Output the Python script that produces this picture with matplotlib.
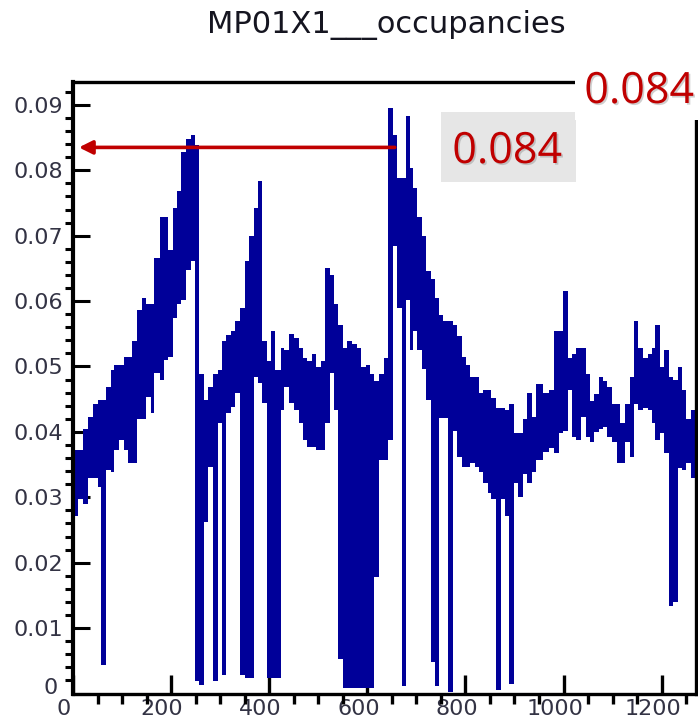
import numpy as np
import matplotlib
matplotlib.use("Agg")
import matplotlib.pyplot as plt
import matplotlib.patheffects as pe
from matplotlib.patches import Rectangle
from matplotlib.ticker import MultipleLocator, FuncFormatter
from matplotlib.transforms import ScaledTranslation

W, H, DPI = 698, 718, 100
BLUE = "#000099"
RED = "#C00000"
LABEL_C = "#333344"

title = "MP01X1___occupancies"

# channel ranges, with the top and bottom of the
# (alternating-channel) band inside each range
edges = [0, 10, 20, 31, 40, 50, 58, 67, 77, 84,
         94, 103, 113, 121, 130, 140, 149, 158, 166, 177,
         186, 194, 203, 212, 221, 231, 240, 249, 257, 267,
         276, 286, 295, 303, 312, 322, 331, 340, 350, 359,
         368, 377, 385, 395, 403, 412, 423, 431, 441, 450,
         461, 469, 478, 488, 495, 505, 514, 523, 533, 541,
         550, 559, 569, 578, 587, 597, 606, 614, 623, 633,
         642, 652, 661, 670, 679, 687, 693, 702, 711, 720,
         729, 738, 747, 755, 765, 774, 783, 792, 801, 809,
         819, 828, 836, 847, 853, 862, 872, 881, 889, 899,
         908, 917, 925, 935, 944, 958, 971, 981, 990, 999,
         1009, 1018, 1026, 1036, 1045, 1054, 1063, 1072, 1081, 1089,
         1098, 1108, 1116, 1126, 1135, 1143, 1152, 1162, 1172, 1180,
         1187, 1197, 1205, 1215, 1224, 1233, 1242, 1250, 1259, 1270]

upper = [.0373, .0373, .0405, .0423, .0443, .0449, .0449, .0469, .0494, .0503,
         .0503, .0514, .0514, .0539, .0586, .0605, .0595, .0595, .0666, .0728,
         .0728, .0678, .0742, .0769, .0828, .0848, .0854, .0838, .0489, .0449,
         .0469, .0489, .0494, .0539, .0548, .0555, .0570, .0590, .0662, .0700,
         .0742, .0783, .0539, .0509, .0555, .0494, .0529, .0525, .0549, .0543,
         .0529, .0513, .0508, .0519, .0499, .0508, .0650, .0640, .0595, .0564,
         .0529, .0539, .0534, .0529, .0499, .0503, .0489, .0478, .0489, .0513,
         .0895, .0854, .0788, .0788, .0883, .0803, .0773, .0728, .0700, .0646,
         .0634, .0605, .0578, .0570, .0570, .0564, .0547, .0514, .0503, .0484,
         .0484, .0460, .0464, .0464, .0452, .0437, .0437, .0433, .0443, .0398,
         .0398, .0419, .0460, .0423, .0473, .0460, .0464, .0555, .0555, .0615,
         .0513, .0519, .0529, .0529, .0489, .0448, .0458, .0484, .0478, .0469,
         .0443, .0443, .0413, .0443, .0484, .0570, .0529, .0513, .0519, .0529,
         .0564, .0499, .0525, .0484, .0479, .0499, .0464, .0419, .0433]

lower = [.0271, .0297, .0290, .0330, .0330, .0316, .0044, .0341, .0338, .0372,
         .0388, .0373, .0353, .0353, .0419, .0419, .0454, .0429, .0490, .0479,
         .0510, .0514, .0574, .0595, .0602, .0647, .0662, .0019, .0013, .0262,
         .0347, .0019, .0414, .0029, .0429, .0438, .0460, .0029, .0023, .0023,
         .0484, .0475, .0444, .0023, .0023, .0023, .0433, .0469, .0444, .0433,
         .0414, .0388, .0377, .0377, .0373, .0373, .0414, .0490, .0433, .0052,
         .0009, .0009, .0009, .0009, .0009, .0009, .0009, .0178, .0357, .0357,
         .0388, .0685, .0590, .0012, .0601, .0525, .0554, .0525, .0496, .0449,
         .0048, .0012, .0421, .0421, .0003, .0402, .0362, .0347, .0347, .0353,
         .0347, .0338, .0322, .0306, .0297, .0006, .0297, .0271, .0015, .0322,
         .0300, .0335, .0322, .0338, .0357, .0370, .0376, .0368, .0398, .0402,
         .0464, .0392, .0388, .0423, .0392, .0384, .0400, .0404, .0408, .0392,
         .0384, .0353, .0353, .0384, .0362, .0443, .0433, .0437, .0433, .0414,
         .0388, .0398, .0368, .0134, .0140, .0345, .0341, .0353, .0330]

marked_value = "0.084"
arrow_level = 0.0835
arrow_span = (656, 12)   # tail, head (channel)

plt.rcParams["font.family"] = ["DejaVu Sans"]


def px(x, y):
    """figure pixel (from top-left) -> figure fraction"""
    return x / W, 1 - y / H


fig = plt.figure(figsize=(W / DPI, H / DPI), dpi=DPI)
x0, y0 = px(73, 693.5)
x1, y1 = px(696, 82)
ax = fig.add_axes([x0, y0, x1 - x0, y1 - y0])

x = np.array(edges)
ax.fill_between(x, np.append(lower, lower[-1]), np.append(upper, upper[-1]),
                step="post", color=BLUE, lw=0, zorder=2)

ax.set_xlim(0, 1270)
ax.set_ylim(0, 0.0935)
ax.xaxis.set_major_locator(MultipleLocator(200))
ax.xaxis.set_minor_locator(MultipleLocator(50))
ax.yaxis.set_major_locator(MultipleLocator(0.01))
ax.yaxis.set_minor_locator(MultipleLocator(0.002))
# the y "0" is written separately below, a bit higher than its tick
ax.yaxis.set_major_formatter(
    FuncFormatter(lambda v, p: "" if abs(v) < 1e-9 else f"{v:.2f}"))
ax.xaxis.set_major_formatter(FuncFormatter(lambda v, p: f"{v:.0f}"))

ax.tick_params(direction="in", top=False, right=False, labelsize=16,
               labelcolor=LABEL_C, color="black")
ax.tick_params(axis="y", which="major", length=12.5, width=2.2, pad=7)
ax.tick_params(axis="y", which="minor", length=6, width=2.2)
ax.tick_params(axis="x", which="major", length=13.5, width=2.4, pad=4)
ax.tick_params(axis="x", which="minor", length=7, width=2.4)
for s in ax.spines.values():
    s.set_linewidth(2.4)
ax.spines["left"].set_linewidth(3)

shift = ScaledTranslation(-9 / DPI, 0, fig.dpi_scale_trans)
for lab in ax.xaxis.get_majorticklabels():
    lab.set_transform(lab.get_transform() + shift)

ax.annotate("0", xy=(0, 0), xycoords=("axes fraction", "data"),
            xytext=(-11, 4), textcoords="offset points", ha="right",
            va="center", fontsize=16, color=LABEL_C, annotation_clip=False)

ax.annotate("", xy=(arrow_span[1], arrow_level),
            xytext=(arrow_span[0], arrow_level),
            arrowprops=dict(arrowstyle="-|>", color=RED, lw=2.6,
                            mutation_scale=20, shrinkA=0, shrinkB=0),
            zorder=5)

fig.text(*px(386, 33), title, ha="center", va="baseline", fontsize=22,
         color="#151520")

shadow = [pe.withSimplePatchShadow(offset=(1.2, -1.2),
                                   shadow_rgbFace="#777777", alpha=0.35)]

# grey label box
bx, by = px(441, 182)
fig.add_artist(Rectangle((bx, by), 135 / W, 70 / H, transform=fig.transFigure,
                         facecolor="#E6E6E6", edgecolor="none", zorder=6))
fig.text(*px(507, 163), marked_value, ha="center", va="baseline",
         fontsize=31, family="Open Sans", color=RED, zorder=7,
         path_effects=shadow)

# white text box at the top right corner
wx, wy = px(575, 120)
fig.add_artist(Rectangle((wx, wy), 1 - wx, 65 / H, transform=fig.transFigure,
                         facecolor="white", edgecolor="none", zorder=6))
fig.text(*px(639, 103), marked_value, ha="center", va="baseline",
         fontsize=31, family="Open Sans", color=RED, zorder=7,
         path_effects=shadow)

fig.savefig("out.png", dpi=DPI)
